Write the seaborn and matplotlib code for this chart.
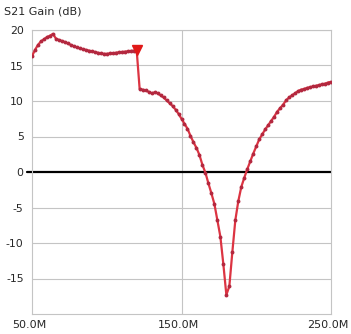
import numpy as np
import pandas as pd
import matplotlib
matplotlib.use("Agg")
import matplotlib.pyplot as plt
import matplotlib.transforms as mtransforms
import seaborn as sns

# ---- data ----
freq_mhz = list(range(50, 251, 2))
gain_db = [
    16.3, 17.2, 17.9, 18.4, 18.7, 19.0, 19.2, 19.45, 18.8, 18.6,   # 50-68
    18.45, 18.3, 18.1, 17.9, 17.7, 17.55, 17.4, 17.3, 17.2, 17.1,  # 70-88
    17.0, 16.9, 16.8, 16.7, 16.65, 16.65, 16.7, 16.7, 16.8, 16.85,  # 90-108
    16.9, 16.95, 17.0, 17.05, 17.1, 17.2, 11.7, 11.6, 11.5, 11.3,   # 110-128
    11.1, 11.2, 11.1, 10.8, 10.5, 10.1, 9.7, 9.3, 8.8, 8.2,         # 130-148
    7.5, 6.8, 6.1, 5.1, 4.2, 3.4, 2.4, 1.0, -0.1, -1.6,             # 150-168
    -3.0, -4.5, -6.8, -9.1, -13.0, -17.3, -16.1, -11.3, -6.8, -4.1, # 170-188
    -2.1, -0.8, 0.4, 1.5, 2.6, 3.6, 4.6, 5.3, 6.0, 6.6,             # 190-208
    7.2, 7.8, 8.5, 9.0, 9.5, 10.1, 10.5, 10.8, 11.1, 11.4,          # 210-228
    11.6, 11.7, 11.85, 11.95, 12.05, 12.15, 12.25, 12.35, 12.45, 12.6,  # 230-248
    12.7,                                                          # 250
]
marker_freq = 120
x_ticks = [50, 150, 250]
x_tick_labels = ["50.0M", "150.0M", "250.0M"]
y_ticks = [20, 15, 10, 5, 0, -5, -10, -15]
y_tick_labels = ["20", "15", "10", "5", "0", "-5", "-10", "-15"]
title = "S21 Gain (dB)"

assert len(freq_mhz) == len(gain_db)
df = pd.DataFrame({"freq": freq_mhz, "gain": gain_db})

# ---- figure ----
sns.set_style("white")
plt.rcParams["font.family"] = ["DejaVu Sans"]

W, H = 351, 334
fig = plt.figure(figsize=(W / 100, H / 100), dpi=100)
ax = fig.add_axes([32 / W, (H - 314) / H, (331 - 32) / W, (314 - 30) / H])

grid_c = "#c4c4c4"
ax.set_xlim(50, 250)
ax.set_ylim(-20, 20)
for yv in [20, 15, 10, 5, -5, -10, -15]:
    ax.axhline(yv, color=grid_c, lw=0.8, zorder=1)
ax.axvline(150, color=grid_c, lw=0.8, zorder=1)
for s in ax.spines.values():
    s.set_color(grid_c)
    s.set_linewidth(0.8)

# zero reference line (extends slightly left of axis like the tick)
ax.plot([-0.018, 1], [0.5, 0.5], transform=ax.transAxes, color="black",
        lw=1.6, zorder=2, clip_on=False)

sns.lineplot(data=df, x="freq", y="gain", ax=ax, color="#dc3442",
             linewidth=1.6, marker="o", markersize=2.8,
             markerfacecolor="#b3283f", markeredgewidth=0, zorder=3)

mk = df.loc[df["freq"] == marker_freq]
ax.plot(mk["freq"], mk["gain"], marker="v", color="#e01818", ms=7,
        ls="none", zorder=4)

ax.set_xticks(x_ticks)
ax.set_xticklabels(x_tick_labels)
ax.set_yticks(y_ticks)
ax.set_yticklabels(y_tick_labels)
ax.tick_params(axis="y", length=3, color=grid_c, labelsize=7.8, pad=3)
ax.tick_params(axis="x", length=0, labelsize=8, pad=4)
shift = mtransforms.ScaledTranslation(-3 / 100, 0, fig.dpi_scale_trans)
for lab in ax.get_xticklabels():
    lab.set_transform(lab.get_transform() + shift)
ax.set_xlabel("")
ax.set_ylabel("")

fig.text(4 / W, 1 - 12 / H, title, fontsize=8, va="center", ha="left")

fig.savefig("out.png", dpi=100)
